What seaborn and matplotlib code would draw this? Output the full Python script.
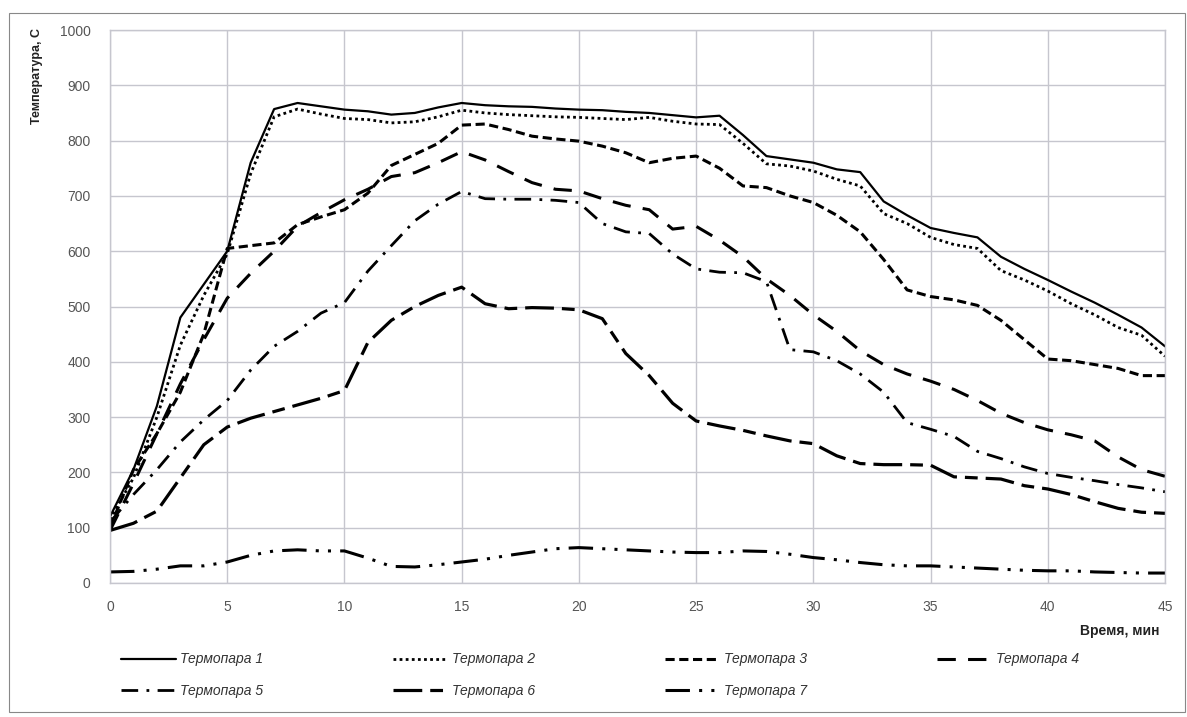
import numpy as np
import pandas as pd
import matplotlib
matplotlib.use("Agg")
import matplotlib.pyplot as plt
from matplotlib.patches import Rectangle
import seaborn as sns

# Время, мин
t = list(range(0, 46))

tp1 = [120, 205, 320, 480, 540, 600, 760, 857, 868, 862, 856, 853, 847, 850, 860, 868,
       864, 862, 861, 858, 856, 855, 852, 850, 846, 842, 845, 810, 772, 766, 760, 748,
       743, 690, 665, 642, 633, 625, 590, 568, 548, 527, 507, 485, 462, 428]
tp2 = [115, 190, 300, 430, 520, 595, 740, 843, 857, 848, 840, 838, 832, 834, 843, 855,
       850, 847, 845, 843, 842, 840, 838, 842, 835, 830, 829, 795, 758, 754, 745, 730,
       718, 668, 650, 625, 612, 605, 565, 548, 528, 505, 485, 462, 448, 410]
tp3 = [100, 205, 270, 345, 450, 605, 610, 615, 648, 662, 675, 705, 755, 775, 795, 828,
       830, 820, 808, 803, 799, 790, 778, 760, 768, 772, 750, 718, 715, 700, 688, 665,
       635, 585, 530, 518, 512, 502, 475, 440, 405, 402, 395, 388, 375, 375]
tp4 = [95, 180, 270, 360, 440, 515, 560, 600, 645, 670, 693, 712, 735, 742, 760, 780,
       765, 744, 724, 712, 709, 695, 683, 675, 640, 645, 620, 590, 550, 520, 485, 455,
       420, 395, 378, 365, 350, 330, 307, 290, 277, 268, 257, 228, 205, 193]
tp5 = [110, 160, 205, 255, 295, 330, 385, 428, 455, 488, 507, 564, 610, 655, 685, 708,
       695, 694, 694, 692, 688, 650, 635, 632, 595, 568, 562, 561, 545, 422, 418, 402,
       378, 345, 290, 278, 265, 238, 225, 210, 198, 191, 185, 178, 172, 165]
tp6 = [95, 108, 130, 190, 250, 282, 298, 310, 322, 334, 348, 435, 475, 500, 520, 535,
       505, 496, 498, 497, 494, 478, 415, 375, 325, 293, 284, 276, 266, 257, 252, 230,
       216, 214, 214, 213, 192, 190, 188, 176, 170, 160, 147, 135, 128, 126]
tp7 = [20, 21, 25, 31, 31, 38, 50, 58, 60, 58, 58, 45, 30, 29, 33, 38,
       43, 50, 56, 62, 64, 62, 60, 58, 56, 55, 55, 58, 57, 52, 46, 42,
       37, 33, 31, 31, 29, 27, 25, 23, 22, 22, 20, 19, 18, 18]

names = ['Термопара 1', 'Термопара 2', 'Термопара 3', 'Термопара 4',
         'Термопара 5', 'Термопара 6', 'Термопара 7']
series = [tp1, tp2, tp3, tp4, tp5, tp6, tp7]

styles = [
    dict(dashes=(None, None), lw=1.6),
    dict(dashes=(1, 1.2), lw=2.0),
    dict(dashes=(3, 1.5), lw=2.2),
    dict(dashes=(6, 4), lw=2.2),
    dict(dashes=(6, 3, 1, 3), lw=2.0),
    dict(dashes=(9, 2.5, 4, 2.5), lw=2.3),
    dict(dashes=(8, 3, 1, 3, 1, 3), lw=2.2),
]

sns.set_style("whitegrid")
plt.rcParams['font.family'] = ['Liberation Sans', 'DejaVu Sans']

fig = plt.figure(figsize=(11.87, 7.17), dpi=100)
ax = fig.add_axes([110 / 1187, 1 - 583 / 717, 1055 / 1187, 553 / 717])

dados = pd.DataFrame({'t': t})
handles = []
for nome, vals, st in zip(names, series, styles):
    dados[nome] = vals
    sns.lineplot(x='t', y=nome, data=dados, ax=ax, color='black', lw=st['lw'],
                 legend=False)
    ln = ax.lines[-1]
    if st['dashes'][0] is not None:
        ln.set_dashes(st['dashes'])
    ln.set_label(nome)
    handles.append(ln)

if ax.get_legend() is not None:
    ax.get_legend().remove()

ax.set_xlim(0, 45)
ax.set_ylim(0, 1000)
ax.set_xticks(np.arange(0, 46, 5))
ax.set_yticks(np.arange(0, 1001, 100))
ax.grid(True, color='#c6c6ce', lw=1.0)
for s in ax.spines.values():
    s.set_color('#c6c6ce')
    s.set_linewidth(1.0)
ax.tick_params(axis='both', length=0, labelsize=10, colors='#555555')
ax.tick_params(axis='x', pad=12)
ax.tick_params(axis='y', pad=14)
ax.set_xlabel('')
ax.set_ylabel('')

fig.text(37 / 1187, 1 - 28 / 717, 'Температура, С', rotation=90, ha='center', va='top',
         fontsize=9, fontweight='bold', color='#222222')
fig.text(1160 / 1187, 1 - 631 / 717, 'Время, мин', ha='right', va='center',
         fontsize=10, fontweight='bold', color='#222222')

# порядок для заполнения по строкам (легенда заполняется по столбцам)
order = [0, 4, 1, 5, 2, 6, 3]
leg = fig.legend([handles[i] for i in order], [names[i] for i in order],
                 ncol=4, loc='upper left', bbox_to_anchor=(108 / 1187, 1 - 640 / 717),
                 frameon=False, handlelength=4.0, handletextpad=0.3,
                 columnspacing=9.3, labelspacing=1.25,
                 prop={'style': 'italic', 'size': 10})
for txt in leg.get_texts():
    txt.set_color('#333333')

fig.patches.append(Rectangle((9 / 1187, 1 - 712 / 717), 1176 / 1187, 699 / 717,
                             transform=fig.transFigure, fill=False,
                             edgecolor='#888888', lw=0.8))

fig.savefig('out.png', dpi=100)
